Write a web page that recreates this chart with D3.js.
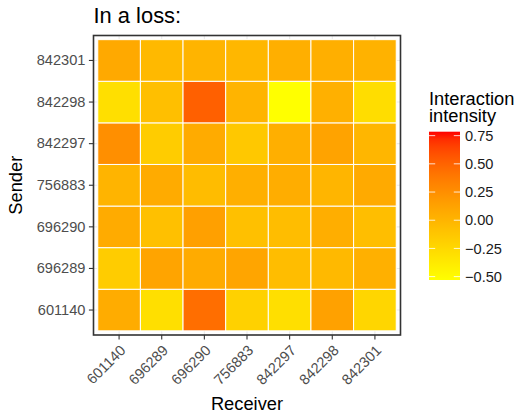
<!DOCTYPE html>
<html>
<head>
<meta charset="utf-8">
<script src="https://cdn.jsdelivr.net/npm/d3@7"></script>
<style>
  html, body { margin: 0; padding: 0; background: #fff; }
  svg { display: block; font-family: "Liberation Sans", Arial, sans-serif; }
</style>
</head>
<body>
<svg id="chart" width="519" height="415"></svg>
<script>
// Senders (rows, bottom to top) and receivers (columns, left to right)
const senders   = ["601140", "696289", "696290", "756883", "842297", "842298", "842301"];
const receivers = ["601140", "696289", "696290", "756883", "842297", "842298", "842301"];

// Interaction intensity per sender, in receiver order
const row601140 = [ 0.062, -0.301,  0.444, -0.195, -0.301,  0.134, -0.230];
const row696289 = [-0.165,  0.114,  0.068,  0.108, -0.058, -0.030,  0.035];
const row696290 = [ 0.068, -0.080,  0.141, -0.080, -0.058,  0.049, -0.066];
const row756883 = [ 0.003,  0.068, -0.051,  0.042,  0.055, -0.004,  0.075];
const row842297 = [ 0.252, -0.165,  0.068, -0.137,  0.042,  0.121, -0.011];
const row842298 = [-0.301, -0.072,  0.519,  0.003, -0.530,  0.029, -0.280];
const row842301 = [ 0.081, -0.030,  0.003, -0.017,  0.042,  0.042,  0.016];
const rows = [row601140, row696289, row696290, row756883, row842297, row842298, row842301];

// Colour scale limits and legend breaks
const fillLimits = [-0.53, 0.785];
const legendBreaks = [-0.50, -0.25, 0.00, 0.25, 0.50, 0.75];

const cells = [];
senders.forEach((s, i) => receivers.forEach((r, j) => cells.push({sender: s, receiver: r, value: rows[i][j]})));

const svg = d3.select("#chart");

const panel = {left: 93.5, right: 400.5, top: 35.5, bottom: 335};

const x = d3.scaleBand().domain(receivers).range([panel.left, panel.right]).paddingInner(0).paddingOuter(0.1);
const y = d3.scaleBand().domain(senders).range([panel.bottom, panel.top]).paddingInner(0).paddingOuter(0.1);
const fill = d3.scaleLinear().domain(fillLimits).range(["yellow", "red"]).interpolate(d3.interpolateLab).clamp(true);

// Panel background and grid
svg.append("rect").attr("x", panel.left).attr("y", panel.top)
  .attr("width", panel.right - panel.left).attr("height", panel.bottom - panel.top).attr("fill", "#fff");
const grid = svg.append("g").attr("stroke", "#EBEBEB").attr("stroke-width", 1.1);
receivers.forEach(r => grid.append("line")
  .attr("x1", x(r) + x.bandwidth() / 2).attr("x2", x(r) + x.bandwidth() / 2)
  .attr("y1", panel.top).attr("y2", panel.bottom));
senders.forEach(s => grid.append("line")
  .attr("x1", panel.left).attr("x2", panel.right)
  .attr("y1", y(s) + y.bandwidth() / 2).attr("y2", y(s) + y.bandwidth() / 2));

// Tiles
svg.append("g").selectAll("rect").data(cells).join("rect")
  .attr("x", d => x(d.receiver)).attr("y", d => y(d.sender))
  .attr("width", x.bandwidth()).attr("height", y.bandwidth())
  .attr("fill", d => fill(d.value))
  .attr("stroke", "#fff").attr("stroke-width", 1);

// Panel border
svg.append("rect").attr("x", panel.left).attr("y", panel.top)
  .attr("width", panel.right - panel.left).attr("height", panel.bottom - panel.top)
  .attr("fill", "none").attr("stroke", "#333333").attr("stroke-width", 1.6);

// Axes
const xAxis = svg.append("g").attr("transform", `translate(0,${panel.bottom})`)
  .call(d3.axisBottom(x).tickSize(4.6).tickPadding(3));
xAxis.select(".domain").remove();
xAxis.selectAll(".tick line").attr("stroke", "#333333").attr("stroke-width", 1.1);
xAxis.selectAll(".tick text")
  .attr("fill", "#4D4D4D").attr("font-size", "14.6px")
  .attr("text-anchor", "end").attr("dy", null).attr("y", null)
  .attr("transform", "translate(0,9) rotate(-45)")
  .attr("dominant-baseline", "hanging");

const yAxis = svg.append("g").attr("transform", `translate(${panel.left},0)`)
  .call(d3.axisLeft(y).tickSize(4.6).tickPadding(3.5));
yAxis.select(".domain").remove();
yAxis.selectAll(".tick line").attr("stroke", "#333333").attr("stroke-width", 1.1);
yAxis.selectAll(".tick text").attr("fill", "#4D4D4D").attr("font-size", "14.6px");

// Titles
svg.append("text").attr("x", panel.left).attr("y", 23)
  .attr("font-size", "21.9px").attr("fill", "#000").text("In a loss:");
svg.append("text").attr("x", (panel.left + panel.right) / 2).attr("y", 410)
  .attr("text-anchor", "middle").attr("font-size", "18.3px").attr("fill", "#000").text("Receiver");
svg.append("text").attr("transform", `translate(21.5,${(panel.top + panel.bottom) / 2}) rotate(-90)`)
  .attr("text-anchor", "middle").attr("font-size", "18.3px").attr("fill", "#000").text("Sender");

// Legend
const legend = svg.append("g");
legend.append("text").attr("x", 429).attr("y", 104.5).attr("font-size", "18.3px").text("Interaction");
legend.append("text").attr("x", 429).attr("y", 121.5).attr("font-size", "18.3px").text("intensity");

const bar = {x: 429, y0: 131.7, y1: 280, w: 31};
const ly = d3.scaleLinear().domain(fillLimits).range([bar.y1, bar.y0]);
const defs = svg.append("defs");
const grad = defs.append("linearGradient").attr("id", "fillgrad")
  .attr("x1", 0).attr("y1", 1).attr("x2", 0).attr("y2", 0);
d3.range(0, 1.0001, 0.05).forEach(t => grad.append("stop")
  .attr("offset", t)
  .attr("stop-color", fill(fillLimits[0] + t * (fillLimits[1] - fillLimits[0]))));
legend.append("rect").attr("x", bar.x).attr("y", bar.y0)
  .attr("width", bar.w).attr("height", bar.y1 - bar.y0).attr("fill", "url(#fillgrad)");
legendBreaks.forEach(b => {
  const yy = ly(b);
  legend.append("line").attr("x1", bar.x).attr("x2", bar.x + bar.w / 5).attr("y1", yy).attr("y2", yy)
    .attr("stroke", "#fff").attr("stroke-opacity", 0.8).attr("stroke-width", 1);
  legend.append("line").attr("x1", bar.x + bar.w * 4 / 5).attr("x2", bar.x + bar.w).attr("y1", yy).attr("y2", yy)
    .attr("stroke", "#fff").attr("stroke-opacity", 0.8).attr("stroke-width", 1);
  legend.append("text").attr("x", bar.x + bar.w + 5).attr("y", yy).attr("dy", "0.35em")
    .attr("font-size", "14.6px").attr("fill", "#1A1A1A")
    .text(d3.format(".2f")(b).replace("-", "\u2212"));
});
</script>
</body>
</html>
